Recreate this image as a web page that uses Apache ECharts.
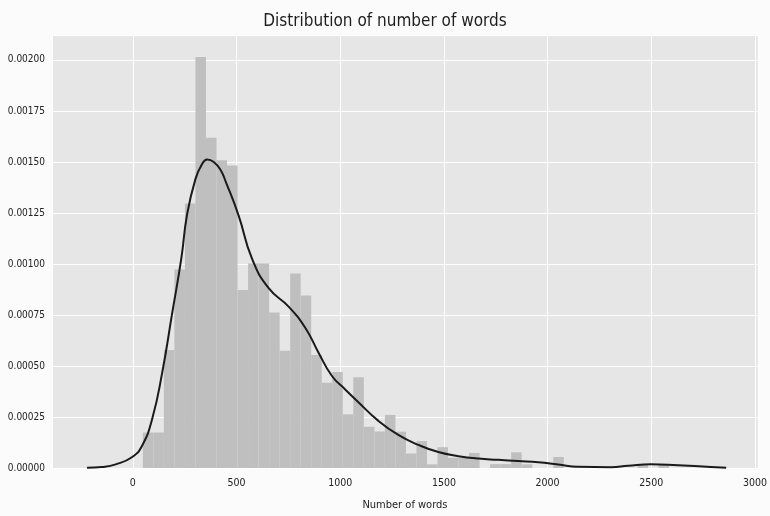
<!DOCTYPE html>
<html>
<head>
<meta charset="utf-8">
<script src="https://cdn.jsdelivr.net/npm/echarts@6/dist/echarts.min.js"></script>
<style>
  html, body { margin: 0; padding: 0; background: #fbfbfb; }
  #chart { width: 770px; height: 516px; }
</style>
</head>
<body>
<div id="chart"></div>
<script>
// Histogram: 50 equal bins
const binStart = 48;
const binWidth = 50.75;
const binDensity = [
  0.000174, 0.000174, 0.000578, 0.000973, 0.001296, 0.002014, 0.001618, 0.001508, 0.001483, 0.000872,
  0.001002, 0.001002, 0.000762, 0.000574, 0.000953, 0.000845, 0.000554, 0.000418, 0.000471, 0.000263,
  0.000445, 0.000202, 0.000179, 0.000260, 0.000178, 0.000071, 0.000132, 0.000018, 0.000102, 0.000050,
  0.000049, 0.000074, 0, 0.000019, 0.000019, 0.000077, 0.000018, 0, 0, 0.000054,
  0, 0, 0, 0, 0, 0, 0, 0.000018, 0, 0.000018
];
// KDE curve
const kdeX = [-221, -150, -83, -3, 45, 93, 141, 189, 234, 261, 302, 334, 358, 390, 423, 449, 510, 574, 655, 751, 832, 896, 960, 1024, 1085, 1184, 1280, 1377, 1473, 1570, 1666, 1762, 1858, 1955, 2051, 2147, 2306, 2388, 2499, 2629, 2788, 2861];
const kdeY = [0.000001, 0.000005, 0.000018, 0.000054, 0.00011, 0.00024, 0.000465, 0.000755, 0.00103, 0.00124, 0.001417, 0.00149, 0.001512, 0.0015, 0.00146, 0.0014, 0.001237, 0.001027, 0.000881, 0.000791, 0.000686, 0.000564, 0.000451, 0.000385, 0.000325, 0.000231, 0.000162, 0.000113, 0.000078, 0.000058, 0.000046, 0.00004, 0.000034, 0.000028, 0.000017, 0.000006, 0.000004, 0.000011, 0.000018, 0.000013, 0.000005, 0.000001];

const titleText = 'Distribution of number of words';
const xName = 'Number of words';

const histData = binDensity.map((h, i) => [binStart + i * binWidth, binStart + (i + 1) * binWidth, h]);
const kdeData = kdeX.map((x, i) => [x, kdeY[i]]);

const FONT = "'Liberation Sans Narrow', 'DejaVu Sans Condensed', sans-serif";

const chart = echarts.init(document.getElementById('chart'), null, { renderer: 'canvas' });
chart.setOption({
  backgroundColor: '#fbfbfb',
  animation: false,
  title: {
    text: titleText,
    left: 'center',
    top: 8,
    textStyle: { fontFamily: FONT, fontSize: 17, fontWeight: 'normal', color: '#1e1e1e' }
  },
  grid: {
    left: 52, right: 10, top: 35, bottom: 43,
    show: true, backgroundColor: '#e6e6e6', borderWidth: 0
  },
  xAxis: {
    type: 'value',
    min: -390, max: 3014,
    splitNumber: 7,
    name: xName,
    nameLocation: 'middle',
    nameGap: 32,
    nameTextStyle: { fontFamily: FONT, fontSize: 11, color: '#222' },
    axisLine: { show: false },
    axisTick: { show: false },
    axisLabel: {
      showMinLabel: false, showMaxLabel: false, margin: 10, fontFamily: FONT, fontSize: 10.5, color: '#222',
      formatter: v => String(v)
    },
    splitLine: { show: true, lineStyle: { color: '#ffffff', width: 1 } }
  },
  yAxis: {
    type: 'value',
    min: 0, max: 0.002122,
    interval: 0.00025,
    axisLine: { show: false },
    axisTick: { show: false },
    axisLabel: {
      showMaxLabel: false, margin: 7, fontFamily: FONT, fontSize: 10, color: '#222',
      formatter: v => v.toFixed(5)
    },
    splitLine: { show: true, lineStyle: { color: '#ffffff', width: 1 } }
  },
  series: [
    {
      type: 'custom',
      data: histData,
      encode: { x: [0, 1], y: 2 },
      renderItem: function (params, api) {
        const p0 = api.coord([api.value(0), api.value(2)]);
        const p1 = api.coord([api.value(1), 0]);
        return {
          type: 'rect',
          shape: { x: p0[0], y: p0[1], width: p1[0] - p0[0], height: p1[1] - p0[1] },
          style: { fill: '#bfbfbf' }
        };
      },
      z: 2
    },
    {
      type: 'line',
      data: kdeData,
      showSymbol: false,
      smooth: 0.5,
      lineStyle: { color: '#1a1a1a', width: 2 },
      z: 3
    }
  ]
});
</script>
</body>
</html>
